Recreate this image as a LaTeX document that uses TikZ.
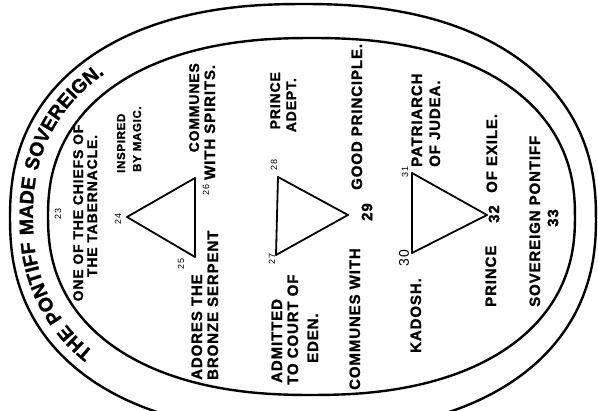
\documentclass[tikz,border=0pt]{standalone}
\usepackage{fontspec}
\setmainfont{Liberation Sans}[LetterSpace=6, BoldFeatures={FakeBold=1.2}]
\usetikzlibrary{decorations.text}

\begin{document}
\begin{tikzpicture}[x=1pt,y=-1pt,
    declare function={sx(\t)=cos(\t)/abs(cos(\t))*abs(cos(\t))^0.87;
                      sy(\t)=sin(\t)/abs(sin(\t))*abs(sin(\t))^0.87;}]
                    \tikzset{
                        lbl/.style={rotate=90, anchor=base west, inner sep=0pt, font=\fontsize{15}{15}\selectfont\bfseries},
                        upper/.style={lbl, font=\fontsize{14}{14}\selectfont\bfseries},
                        small/.style={lbl, font=\fontsize{11.5}{11.5}\selectfont\bfseries},
                        num/.style={rotate=90, inner sep=0pt, font=\fontsize{9}{9}\selectfont},
                        bignum/.style={rotate=90, inner sep=0pt, font=\fontsize{15}{15}\selectfont\bfseries},
                        side/.style={line width=1.8pt, line join=round, line cap=round},
                        rim/.style={line width=2.4pt}
                    }
                    \clip (0,0) rectangle (598,411);
                    % the two rims
                    \draw[rim] plot[domain=0.5:360.5, samples=121, smooth] ({303+293*sx(\x)},{218+214*sy(\x)}) -- cycle;
                    \draw[rim] plot[domain=0.5:360.5, samples=121, smooth] ({311.5+263.5*sx(\x)},{216.5+178.5*sy(\x)}) -- cycle;
                    \path[decorate, decoration={text along path, text align=left,
                        text={|\fontsize{19.5}{19.5}\selectfont\bfseries|THE PONTIFF MADE SOVEREIGN.}}]
                        plot[domain=138.5:250.5, samples=38, smooth] ({306+273*sx(\x)},{217+193*sy(\x)});
                    % corners of the triangles
                    \coordinate (v24) at (127,217);
                    \coordinate (v25) at (195,257);
                    \coordinate (v26) at (195,178);
                    \coordinate (v27) at (276,255);
                    \coordinate (v28) at (278,177);
                    \coordinate (v29) at (348,215);
                    \coordinate (v30) at (412,253);
                    \coordinate (v31) at (412,173);
                    \coordinate (v32) at (487,215);
                    \foreach \x/\y in {%
                        v24/v25,v25/v26,v26/v24,v27/v28,v28/v29,v29/v27,v30/v31,v31/v32,v32/v30%
                    }{
                    \draw[side] (\x) -- (\y);
                    }
                    \draw node[num] (n23) at (58,214) {23};
                    \draw node[upper, anchor=base] (chiefs) at (83,213) {ONE OF THE CHIEFS OF};
                    \draw node[upper, anchor=base] (tabernacle) at (97,206) {THE TABERNACLE.};
                    \draw node[small] (inspired) at (125,173) {INSPIRED};
                    \draw node[small] (magic) at (141,172) {BY MAGIC.};
                    \draw node[num] (n24) at (118,219) {24};
                    \draw node[num] (n25) at (181,264) {25};
                    \draw node[num] (n26) at (206,190) {26};
                    \draw node[upper, anchor=base east] (communes) at (199,63) {COMMUNES};
                    \draw node[lbl] (spirits) at (215,180) {WITH SPIRITS.};
                    \draw node[lbl] (adores) at (202,380) {ADORES THE};
                    \draw node[lbl] (serpent) at (218,380) {BRONZE SERPENT};
                    \draw node[num] (n27) at (272,259) {27};
                    \draw node[num] (n28) at (274,165) {28};
                    \draw node[upper, anchor=base east] (prince) at (280,72) {PRINCE};
                    \draw node[upper, anchor=base east] (adept) at (296,78) {ADEPT.};
                    \draw node[lbl] (admitted) at (282,383) {ADMITTED};
                    \draw node[lbl] (court) at (298,385) {TO COURT OF};
                    \draw node[lbl] (eden) at (318,363) {EDEN.};
                    \draw node[lbl] (commwith) at (360,390) {COMMUNES WITH};
                    \draw node[bignum] (n29) at (367,212) {29};
                    \draw node[lbl] (good) at (362,190) {GOOD PRINCIPLE.};
                    \draw node[num] (n31) at (405,172) {31};
                    \draw node[bignum, font=\fontsize{14}{14}\selectfont] (n30) at (404,258) {30};
                    \draw node[lbl] (patriarch) at (422,167) {PATRIARCH};
                    \draw node[lbl] (judea) at (440,167) {OF JUDEA.};
                    \draw node[lbl] (kadosh) at (421,353) {KADOSH.};
                    \draw node[lbl] (princeb) at (496,307) {PRINCE};
                    \draw node[bignum] (n32) at (494,214) {32};
                    \draw node[lbl] (exile) at (497,193) {OF EXILE.};
                    \draw node[lbl] (pontiff) at (540,307) {SOVEREIGN PONTIFF};
                    \draw node[bignum] (n33) at (553,218) {33};
                    \end{tikzpicture}
\end{document}
